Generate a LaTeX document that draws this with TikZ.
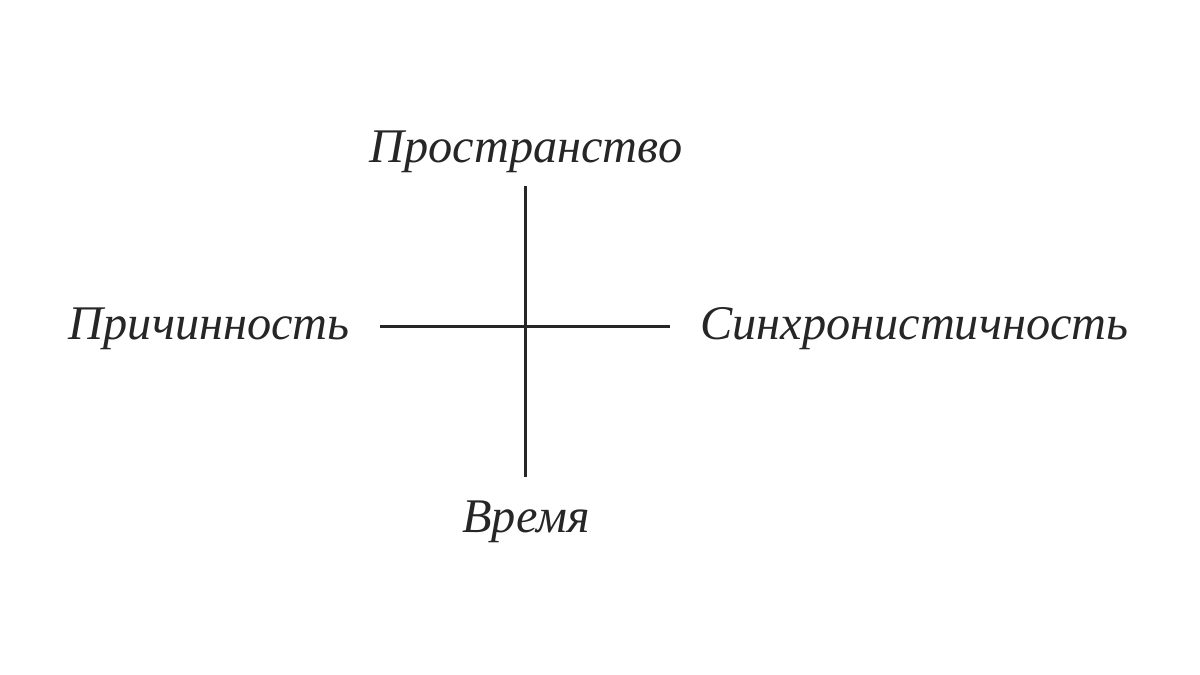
\documentclass[tikz,border=0pt]{standalone}
\usepackage{fontspec}
\setmainfont{Liberation Serif}
\begin{document}
\begin{tikzpicture}[x=0.02cm,y=-0.02cm,
  lbl/.style={font=\fontsize{27.5}{32}\selectfont\itshape, inner sep=0pt, text=black!85},
  axis/.style={line width=2.2pt, draw=black!85}]
\useasboundingbox (0,0) rectangle (1200,675);
\coordinate (top) at (525.5,186);
\coordinate (bot) at (525.5,477);
\coordinate (lft) at (380,326.5);
\coordinate (rgt) at (670,326.5);
\draw[axis] (top) -- (bot);
\draw[axis] (lft) -- (rgt);
\node[lbl, anchor=base] (space) at (526,163) {Пространство};
\node[lbl, anchor=base] (time) at (526,532) {Время};
\node[lbl, anchor=base east] (caus) at (350,340) {Причинность};
\node[lbl, anchor=base west] (sync) at (700,340) {Синхронистичность};
\end{tikzpicture}
\end{document}
